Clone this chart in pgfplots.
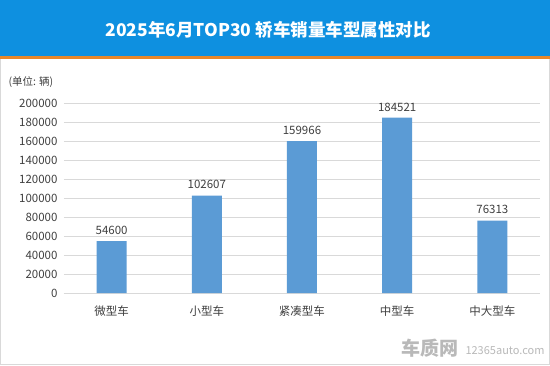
\documentclass[border=0pt]{standalone}
\usepackage{pgfplots}
\pgfplotsset{compat=1.18}
\usepackage{fontspec}
\setmainfont{Noto Sans CJK SC}
\definecolor{hdr}{RGB}{14,144,224}
\definecolor{orangeln}{RGB}{232,135,42}
\definecolor{barc}{RGB}{91,155,213}
\definecolor{gridc}{RGB}{217,217,217}
\definecolor{txt}{RGB}{64,64,64}
\begin{document}
\begin{tikzpicture}[x=1pt,y=1pt]
\useasboundingbox (0,0) rectangle (550,365);
\fill[white] (0,0) rectangle (550,365);
\draw[gray!30, line width=1pt] (0.5,0.5) rectangle (549.5,364.5);
\fill[hdr] (0,308) rectangle (550,365);
\fill[orangeln] (0,305.5) rectangle (550,308.5);
\node[white, font=\fontsize{17.5}{19}\selectfont\bfseries] at (268,335) {2025年6月TOP30 轿车销量车型属性对比};
\node[txt, anchor=west, font=\fontsize{10.5}{12}\selectfont] at (5,283) {(单位: 辆)};
\begin{axis}[
  at={(64pt,72pt)}, anchor=south west,
  scale only axis, width=476pt, height=190pt,
  xmin=-0.5, xmax=4.5, ymin=0, ymax=200000,
  ytick={0,20000,...,200000},
  scaled y ticks=false,
  /pgf/number format/assume math mode=true,
  yticklabel style={/pgf/number format/fixed, /pgf/number format/1000 sep={}, font=\fontsize{11.5}{13}\selectfont, text=txt, xshift=-3pt},
  xtick={0,1,2,3,4},
  xticklabels={微型车,小型车,紧凑型车,中型车,中大型车},
  xticklabel style={font=\fontsize{11.5}{13}\selectfont, text=txt, yshift=-5pt},
  ymajorgrids, grid style={gridc, line width=0.8pt},
  axis x line*=bottom, axis y line*=left,
  x axis line style={draw=gridc, line width=0.8pt, -},
  y axis line style={draw=none},
  ytick style={draw=none}, xtick style={draw=none},
  ybar, bar width=30pt,
  nodes near coords,
  nodes near coords style={font=\fontsize{11.5}{13}\selectfont, text=txt, /pgf/number format/fixed, /pgf/number format/1000 sep={}, /pgf/number format/assume math mode=true, yshift=3pt},
  clip=false,
]
\addplot[fill=barc, draw=none] coordinates {(0,54600) (1,102607) (2,159966) (3,184521) (4,76313)};
\end{axis}
\node[gray!55, font=\fontsize{19}{20}\selectfont\bfseries, anchor=east] at (462,17) {车质网};
\node[gray!55, font=\fontsize{11}{12}\selectfont, anchor=west] at (462,14) {12365auto.com};
\end{tikzpicture}
\end{document}
